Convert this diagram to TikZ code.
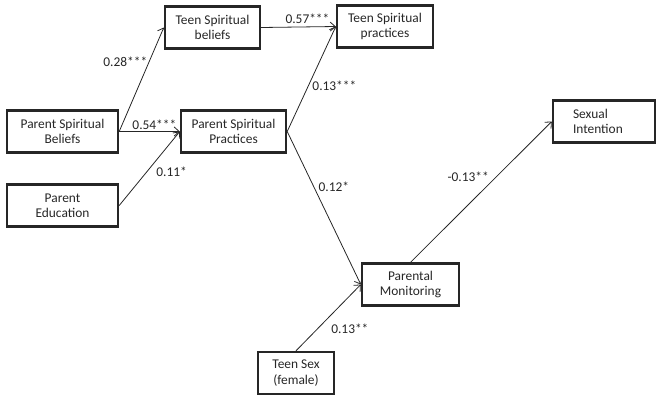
\documentclass[tikz,border=0pt]{standalone}
\usepackage{fontspec}
\setmainfont{Carlito}
\usepackage{xcolor}
\usepackage{tikz}
\usetikzlibrary{arrows.meta, positioning}

\begin{document}
\begin{tikzpicture}[x=1pt, y=-1pt]
\tikzstyle{varbox} = [rectangle, draw=black!85, line width=2.4pt, align=center, minimum height=42pt, inner sep=2pt, font=\fontsize{13.4}{15.5}\selectfont, text=black!85]
\tikzstyle{arrow} = [line width=0.8pt, draw=black!85, ->, >={Straight Barb[length=5pt, width=9pt]}]
\tikzstyle{coef} = [font=\fontsize{13.4}{15.5}\selectfont, text=black!85, inner sep=1.5pt]

\useasboundingbox (0,0) rectangle (660,400);

% variables
\node (tsb) [varbox, minimum width=95pt] at (212.5,27.5) {Teen Spiritual\\beliefs};
\node (tsp) [varbox, minimum width=96pt] at (385,26.5) {Teen Spiritual\\practices};
\node (psb) [varbox, minimum width=111pt] at (62.5,131.5) {Parent Spiritual\\Beliefs};
\node (psp) [varbox, minimum width=105pt] at (233.5,131.5) {Parent Spiritual\\Practices};
\node (pedu) [varbox, minimum width=111pt] at (62.5,205.5) {Parent\\Education};
\node (sexint) [varbox, minimum width=102pt, text width=62pt, align=left] at (604,121.5) {Sexual\\Intention};
\node (pmon) [varbox, minimum width=97pt] at (410.5,284.5) {Parental\\Monitoring};
\node (tsex) [varbox, minimum width=76pt] at (296,373) {Teen Sex\\(female)};

% paths
\draw [arrow] (psb.east) -- node[coef, pos=0.67, anchor=east] {0.28***} (tsb.west);
\draw [arrow] (psb.east) -- node[coef, pos=0.58, anchor=south] {0.54***} (psp.west);
\draw [arrow] (pedu.east) -- node[coef, pos=0.45, anchor=west, xshift=8pt] {0.11*} (psp.west);
\draw [arrow] (tsb.east) -- node[coef, pos=0.62, anchor=south, yshift=1pt] {0.57***} (tsp.west);
\draw [arrow] (psp.east) -- node[coef, pos=0.44, anchor=west, xshift=2pt] {0.13***} (tsp.west);
\draw [arrow] (psp.east) -- node[coef, pos=0.36, anchor=west, xshift=3pt] {0.12*} (pmon.west);
\draw [arrow] (tsex.north) -- node[coef, pos=0.33, anchor=west, xshift=12pt] {0.13**} (pmon.west);
\draw [arrow] (pmon.north) -- node[coef, pos=0.61, anchor=east, xshift=-6pt] {-0.13**} (sexint.west);

\end{tikzpicture}
\end{document}
